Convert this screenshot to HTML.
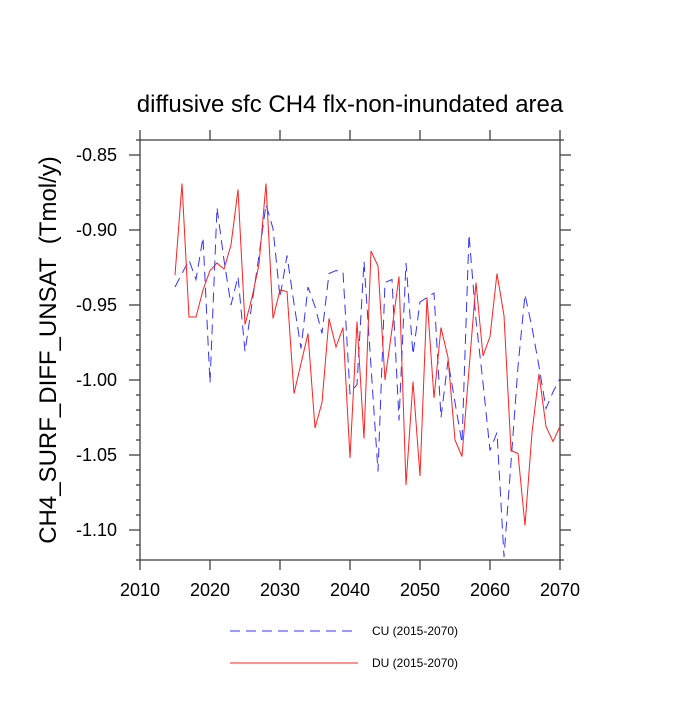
<!DOCTYPE html>
<html><head><meta charset="utf-8"><style>
body{margin:0;background:#fff;}
svg text{font-family:"Liberation Sans",Arial,sans-serif;fill:#000;}
</style></head><body>
<svg id="chart" width="700" height="700" xmlns="http://www.w3.org/2000/svg">
<text x="350" y="112" font-size="24" text-anchor="middle">diffusive sfc CH4 flx-non-inundated area</text>
<text transform="translate(56,350) rotate(-90)" font-size="24" text-anchor="middle">CH4_SURF_DIFF_UNSAT&#160;&#160;(Tmol/y)</text>
<g id="axes"></g>
<g id="series"></g>
<g>
<line x1="230" y1="631" x2="358" y2="631" stroke="#3333ff" stroke-width="1" stroke-dasharray="10,6"/>
<text x="372" y="635" font-size="12">CU (2015-2070)</text>
<line x1="230" y1="663" x2="358" y2="663" stroke="#ff2020" stroke-width="1"/>
<text x="372" y="667" font-size="12">DU (2015-2070)</text>
</g>
</svg>
<script>
const years = [];
for (let y = 2015; y <= 2070; y++) years.push(y);
const cuValues = [-0.938,-0.929,-0.920,-0.933,-0.905,-1.002,-0.885,-0.920,-0.950,-0.931,-0.981,-0.949,-0.917,-0.883,-0.899,-0.945,-0.917,-0.949,-0.979,-0.938,-0.951,-0.969,-0.929,-0.927,-0.928,-1.009,-1.003,-0.921,-0.991,-1.061,-0.935,-0.933,-1.027,-0.922,-0.983,-0.948,-0.945,-0.942,-1.025,-0.987,-1.015,-1.042,-0.903,-0.960,-1.002,-1.047,-1.035,-1.118,-1.055,-0.991,-0.943,-0.965,-0.991,-1.019,-1.008,-0.999];
const duValues = [-0.930,-0.869,-0.958,-0.958,-0.940,-0.927,-0.922,-0.926,-0.910,-0.873,-0.963,-0.945,-0.923,-0.869,-0.959,-0.940,-0.941,-1.009,-0.989,-0.969,-1.032,-1.015,-0.959,-0.978,-0.965,-1.052,-0.961,-1.039,-0.914,-0.924,-1.000,-0.966,-0.931,-1.070,-1.001,-1.064,-0.945,-1.012,-0.965,-0.985,-1.040,-1.051,-0.993,-0.935,-0.984,-0.971,-0.929,-0.957,-1.047,-1.049,-1.097,-1.035,-0.996,-1.031,-1.041,-1.031];
const xTicks = [2010,2020,2030,2040,2050,2060,2070];
const yTicks = [-0.85,-0.90,-0.95,-1.00,-1.05,-1.10];
const yTickLabels = ["-0.85","-0.90","-0.95","-1.00","-1.05","-1.10"];

const L=140,R=560,T=140,B=560;
const xS = v => L + (v-2010)/(2070-2010)*(R-L);
const yS = v => 155 + (-0.85 - v)*1500;
const NS="http://www.w3.org/2000/svg";
const axes=document.getElementById('axes');
const series=document.getElementById('series');
function mk(tag,attrs,parent){const e=document.createElementNS(NS,tag);for(const k in attrs)e.setAttribute(k,attrs[k]);parent.appendChild(e);return e;}

const frame=mk('rect',{x:L,y:T,width:R-L,height:B-T,fill:'none',stroke:'#333','stroke-width':1.2},axes);



xTicks.forEach(t=>{
  const x=xS(t);
  const tk=mk('line',{x1:x,y1:B,x2:x,y2:B+10,stroke:'#333','stroke-width':1.2},axes);
  
  
  const tk2=mk('line',{x1:x,y1:T,x2:x,y2:T-10,stroke:'#333','stroke-width':1.2},axes);
  
  
  const lb=mk('text',{x:x,y:B+36,'font-size':18,'text-anchor':'middle'},axes);
  lb.textContent=t;
  
  
});
for(let i=-84;i>=-112;i--){
  const v=i/100, y=yS(v);
  if(y<T-0.5||y>B+0.5) continue;
  const major = (i%5===0);
  const len = major?11:4;
  const a=mk('line',{x1:L,y1:y,x2:L-len,y2:y,stroke:'#333','stroke-width':1.2},axes);
  
  
  const b=mk('line',{x1:R,y1:y,x2:R+len,y2:y,stroke:'#333','stroke-width':1.2},axes);
  
  
}
yTicks.forEach((t,i)=>{
  const lb=mk('text',{x:L-23,y:yS(t)+6,'font-size':18,'text-anchor':'end'},axes);
  lb.textContent=yTickLabels[i];
  
  
});

const cu=mk('polyline',{points:years.map((y,i)=>xS(y)+','+yS(cuValues[i])).join(' '),fill:'none',stroke:'#3333ff','stroke-width':1,'stroke-dasharray':'10,6'},series);


const du=mk('polyline',{points:years.map((y,i)=>xS(y)+','+yS(duValues[i])).join(' '),fill:'none',stroke:'#ff2020','stroke-width':1},series);


</script>
</body></html>
